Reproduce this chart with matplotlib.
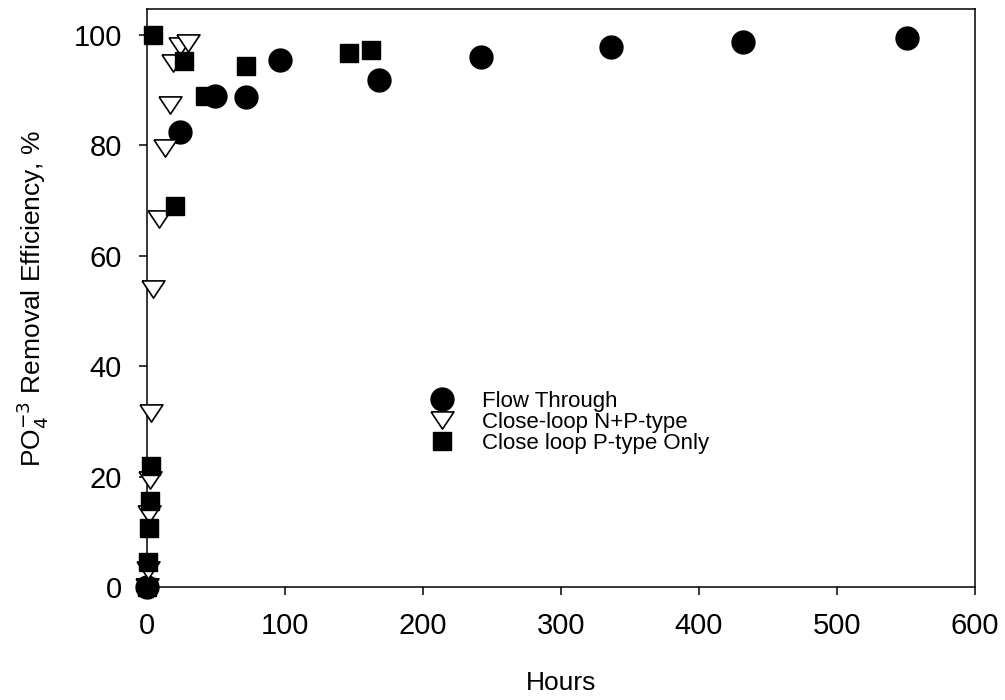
import numpy as np
import matplotlib
matplotlib.use("Agg")
import matplotlib.pyplot as plt

plt.rcParams['font.family'] = ['Liberation Sans', 'DejaVu Sans']

# data
flow_hours = [0, 24, 49, 72, 96, 168, 242, 336, 432, 551]
flow_eff = [0, 82.4, 89.0, 88.8, 95.4, 91.8, 96.0, 97.8, 98.7, 99.5]

np_hours = [0, 1, 1.5, 2, 3, 4, 9, 13, 17, 19, 24, 30]
np_eff = [0, 3.0, 13.2, 19.4, 31.6, 54.0, 66.7, 79.5, 87.3, 95.0, 98.0, 98.5]

p_hours = [0, 1, 1.5, 2, 3, 4, 20, 27, 42, 72, 146, 162]
p_eff = [0, 4.5, 10.7, 15.6, 22.0, 100.0, 69.1, 95.2, 89.0, 94.3, 96.8, 97.2]

x_ticks = [0, 100, 200, 300, 400, 500, 600]
y_ticks = [0, 20, 40, 60, 80, 100]

# wide, flat down-triangle
tri = [(-1, 0.75), (1, 0.75), (0, -0.75), (-1, 0.75)]

fig = plt.figure(figsize=(10.05, 7.0), dpi=100)
ax = fig.add_axes([0.1463, 0.1614, 0.8239, 0.8257])

ax.plot(flow_hours, flow_eff, linestyle='none', marker='o', ms=16.5,
        mfc='black', mec='black', clip_on=False, zorder=3, label='Flow Through')
ax.plot(np_hours, np_eff, linestyle='none', marker=tri, ms=16.5,
        mfc='white', mec='black', mew=1.2, clip_on=False, zorder=4,
        label='Close-loop N+P-type')
ax.plot(p_hours, p_eff, linestyle='none', marker='s', ms=13.5,
        mfc='black', mec='black', clip_on=False, zorder=5,
        label='Close loop P-type Only')

ax.set_xlim(0, 600)
ax.set_ylim(0, 104.7)
ax.set_xticks(x_ticks)
ax.set_yticks(y_ticks)
ax.tick_params(direction='out', length=6, width=1.1, labelsize=21, pad=12,
               top=False, right=False)
for s in ax.spines.values():
    s.set_linewidth(1.1)

ax.set_xlabel('Hours', fontsize=19, labelpad=22)
ax.set_ylabel('PO$_4^{-3}$ Removal Efficiency, %', fontsize=19, labelpad=17)

leg = ax.legend(loc='upper left', bbox_to_anchor=(420 / 1005, 1 - 391 / 700),
                bbox_transform=fig.transFigure, frameon=False, numpoints=1,
                fontsize=16, labelspacing=0.0, handlelength=2.0,
                handletextpad=0.8, borderpad=0, borderaxespad=0)

fig.savefig('out.png', dpi=100)
